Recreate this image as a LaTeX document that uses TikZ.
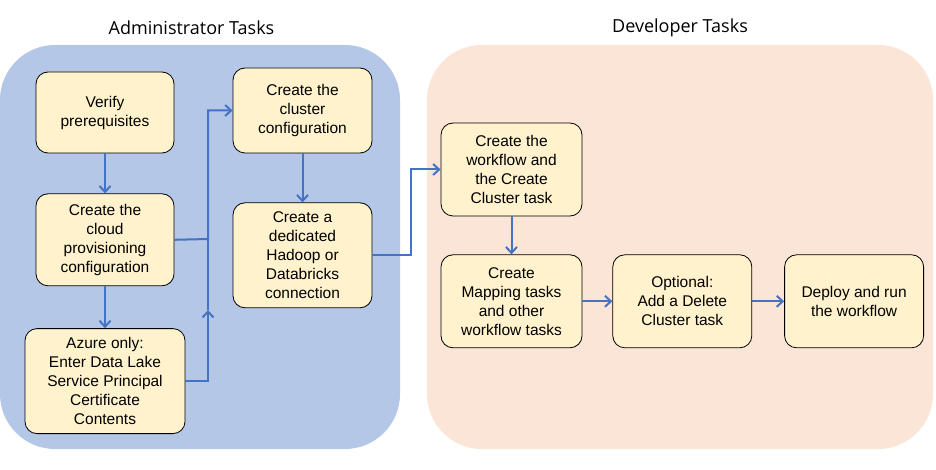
\documentclass[tikz,border=0pt]{standalone}
\usepackage{fontspec}
\setmainfont{Liberation Sans}
\newfontfamily\headfont{Open Sans}
\usetikzlibrary{positioning,arrows.meta}

\definecolor{adminblue}{HTML}{B4C7E7}
\definecolor{devpeach}{HTML}{FBE5D6}
\definecolor{taskfill}{HTML}{FFF2CC}
\definecolor{flowblue}{HTML}{4472C4}

\tikzset{
    taskbox/.style={rectangle, draw=black, line width=0.8pt, fill=taskfill,
        rounded corners=12pt, align=center, inner sep=2pt,
        font=\fontsize{15.5}{19}\selectfont},
    panel/.style={rounded corners=55pt},
    heading/.style={font=\headfont\fontsize{18}{21}\selectfont},
    link/.style={draw=flowblue, line width=2pt},
    flow/.style={link, -{Straight Barb[length=6pt,width=11pt]}}
}

\begin{document}
\begin{tikzpicture}[x=1pt, y=-1pt]
    \useasboundingbox (0,0) rectangle (936,470);
    \fill[panel, adminblue] (0,45) rectangle (400,449);
    \fill[panel, devpeach] (427,45) rectangle (933,449);
    \node[heading] (admintitle) at (191.5,28) {Administrator Tasks};
    \node[heading] (devtitle) at (680,28) {Developer Tasks};

    \node[taskbox, minimum width=138pt, minimum height=81pt] (verify) at (105,112.5)
        {Verify\\prerequisites};
    \node[taskbox, minimum width=138pt, minimum height=92pt, below=40pt of verify] (cloud)
        {Create the\\cloud\\provisioning\\configuration};
    \node[taskbox, minimum width=160pt, minimum height=105pt, below=42pt of cloud] (azure)
        {Azure only:\\Enter Data Lake\\Service Principal\\Certificate\\Contents};
    \node[taskbox, minimum width=139pt, minimum height=85pt] (cluster) at (302.5,110.5)
        {Create the\\cluster\\configuration};
    \node[taskbox, minimum width=139pt, minimum height=105pt, below=49pt of cluster] (dedicated)
        {Create a\\dedicated\\Hadoop or\\Databricks\\connection};
    \node[taskbox, minimum width=141pt, minimum height=93pt] (workflow) at (511.5,169.5)
        {Create the\\workflow and\\the Create\\Cluster task};
    \node[taskbox, minimum width=141pt, minimum height=93pt, below=38pt of workflow] (mapping)
        {Create\\Mapping tasks\\and other\\workflow tasks};
    \node[taskbox, minimum width=139pt, minimum height=93pt, right=30pt of mapping] (optional)
        {Optional:\\Add a Delete\\Cluster task};
    \node[taskbox, minimum width=139pt, minimum height=93pt, right=32pt of optional] (deploy)
        {Deploy and run\\the workflow};

    \coordinate (mergeA) at (208,239);
    \coordinate (mergeB) at (208,310);
    \coordinate (hop) at (411,200);

    \draw[flow] (verify) -- (cloud);
    \draw[flow] (cloud) -- (azure);
    \draw[flow] (cloud.east) -- (mergeA) |- (cluster.west);
    \draw[flow] (azure.east) -| (mergeB);
    \draw[link] (mergeB) -- (mergeA);
    \draw[flow] (cluster) -- (dedicated);
    \draw[flow] (dedicated.east) -| (hop) |- (workflow.west);
    \draw[flow] (workflow) -- (mapping);
    \draw[flow] (mapping) -- (optional);
    \draw[flow] (optional) -- (deploy);
\end{tikzpicture}
\end{document}
